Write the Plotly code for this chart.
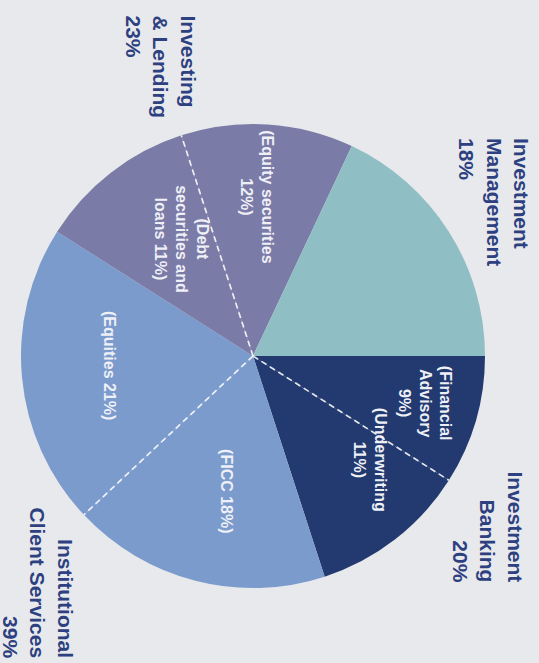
import math
import plotly.graph_objects as go

# ---------------- data ----------------
segments = ["Financial Advisory", "Underwriting", "FICC", "Equities",
            "Debt securities and loans", "Equity securities", "Investment Management"]
segment_values = [9, 11, 18, 21, 11, 12, 18]
segment_group = ["Investment Banking", "Investment Banking",
                 "Institutional Client Services", "Institutional Client Services",
                 "Investing & Lending", "Investing & Lending",
                 "Investment Management"]
segment_text = ["(Financial<br>Advisory<br>9%)", "(Underwriting<br>11%)",
                "(FICC 18%)", "(Equities 21%)",
                "(Debt<br>securities and<br>loans 11%)", "(Equity securities<br>12%)", ""]

groups = ["Investment Banking", "Institutional Client Services",
          "Investing & Lending", "Investment Management"]
group_values = [20, 39, 23, 18]
group_text = ["Investment<br>Banking<br>20%", "Institutional<br>Client Services<br>39%",
              "Investing<br>& Lending<br>23%", "Investment<br>Management<br>18%"]

# ---------------- style / layout ----------------
W, H = 539, 663
BG = "#e8e9ec"
group_colors = {
    "Investment Banking": "#223a70",
    "Institutional Client Services": "#7c9bcd",
    "Investing & Lending": "#7b7ba8",
    "Investment Management": "#8fbfc4",
}
LABEL_COLOR = "#2d4080"
FONT = "Liberation Sans"

CX, CY, R = 253, 356, 232          # pie centre / radius in pixels
ROTATION = 90                      # first slice starts at 3 o'clock

# inner-label placement tweaks (fraction of radius, angle nudge in degrees)
inner_r = [0.77, 0.675, 0.593, 0.618, 0.59, 0.685]
inner_da = [-0.9, -10.6, -3.5, 1.4, 6.5, -2.2]

# outer label anchors (pixel positions)
group_anchor = [
    dict(px=488, py=584, yanchor="bottom", align="right"),
    dict(px=38, py=660, yanchor="bottom", align="right"),
    dict(px=161, py=13, yanchor="top", align="left"),
    dict(px=494, py=136, yanchor="top", align="left"),
]


def px2paper(x, y):
    return x / W, 1 - y / H


fig = go.Figure()
fig.add_trace(go.Pie(
    labels=segments,
    values=segment_values,
    sort=False,
    direction="clockwise",
    rotation=ROTATION,
    marker=dict(colors=[group_colors[g] for g in segment_group],
                line=dict(width=0)),
    textinfo="none",
    hovertemplate="%{label}: %{value}%<extra></extra>",
    showlegend=False,
    domain=dict(x=[(CX - R) / W, (CX + R) / W],
                y=[1 - (CY + R) / H, 1 - (CY - R) / H]),
))

total = sum(segment_values)
shapes = []
annotations = []
cum = 0.0
for i, v in enumerate(segment_values):
    start = ROTATION - 90 + 360 * cum / total    # screen angle, clockwise from 3 o'clock
    end = ROTATION - 90 + 360 * (cum + v) / total
    cum += v
    # dashed divider between sub-segments of the same group
    if i + 1 < len(segment_values) and segment_group[i] == segment_group[i + 1]:
        a = math.radians(end)
        x0, y0 = px2paper(CX, CY)
        x1, y1 = px2paper(CX + R * math.cos(a), CY + R * math.sin(a))
        shapes.append(dict(type="line", xref="paper", yref="paper",
                           x0=x0, y0=y0, x1=x1, y1=y1,
                           line=dict(color="rgba(255,255,255,0.85)", width=1.7, dash="6px,4px")))
    if segment_text[i]:
        mid = math.radians((start + end) / 2 + inner_da[i])
        rr = R * inner_r[i]
        x, y = px2paper(CX + rr * math.cos(mid), CY + rr * math.sin(mid))
        annotations.append(dict(
            text=segment_text[i], x=x, y=y, xref="paper", yref="paper",
            xanchor="center", yanchor="middle", showarrow=False, textangle=90,
            align="center",
            font=dict(family=FONT, size=16, color="#eef0f6", weight="bold"),
        ))

for g, txt, anc in zip(groups, group_text, group_anchor):
    x, y = px2paper(anc["px"], anc["py"])
    annotations.append(dict(
        text=txt, x=x, y=y, xref="paper", yref="paper",
        xanchor="center", yanchor=anc["yanchor"], showarrow=False, textangle=90,
        align=anc["align"],
        font=dict(family=FONT, size=21, color=LABEL_COLOR, weight="bold"),
    ))

fig.update_layout(
    width=W, height=H,
    margin=dict(l=0, r=0, t=0, b=0),
    paper_bgcolor=BG, plot_bgcolor=BG,
    shapes=shapes, annotations=annotations,
)

fig.write_html(
    "out.html",
    config={"displayModeBar": False},
    post_script="document.body.style.margin='0';document.body.style.overflow='hidden';"
                "document.body.style.background='" + BG + "';",
)
